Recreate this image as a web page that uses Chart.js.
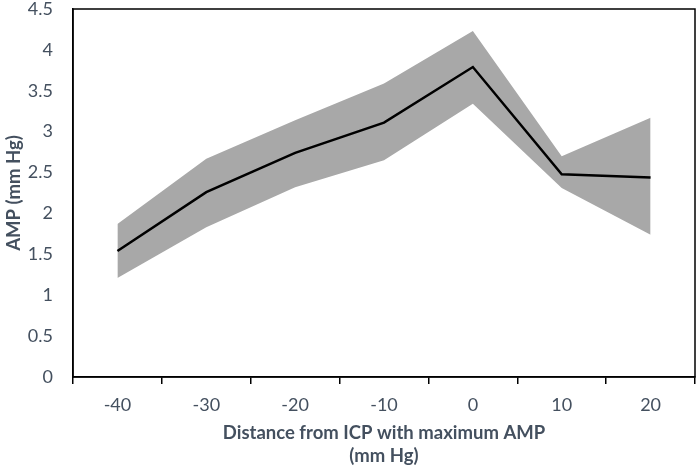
<!DOCTYPE html>
<html>
<head>
<meta charset="utf-8">
<script src="https://cdn.jsdelivr.net/npm/chart.js@4/dist/chart.umd.min.js"></script>
<style>
  html, body { margin: 0; padding: 0; background: #fff; }
  #wrap { width: 700px; height: 471px; }
</style>
</head>
<body>
<div id="wrap"><canvas id="ampChart"></canvas></div>
<script>
const distances = ['-40', '-30', '-20', '-10', '0', '10', '20'];
const meanAmp = [1.54, 2.26, 2.74, 3.11, 3.79, 2.48, 2.44];
const upperAmp = [1.87, 2.67, 3.14, 3.59, 4.23, 2.70, 3.17];
const lowerAmp = [1.21, 1.83, 2.32, 2.65, 3.34, 2.31, 1.74];
const yTicks = [0, 0.5, 1, 1.5, 2, 2.5, 3, 3.5, 4, 4.5];

const textColor = '#44505f';
const fontFamily = 'Lato, "Open Sans", sans-serif';

// box around the plot area (top and right edges)
const frame = {
    id: 'frame',
    afterDraw(chart) {
        const a = chart.chartArea;
        const ctx = chart.ctx;
        ctx.save();
        ctx.strokeStyle = '#000';
        ctx.lineWidth = 1.5;
        ctx.strokeRect(a.left, a.top, a.right - a.left, a.bottom - a.top);
        ctx.restore();
    }
};

const ctx = document.getElementById('ampChart').getContext('2d');
new Chart(ctx, {
    type: 'line',
    data: {
        labels: distances,
        datasets: [
            {
                label: 'Upper',
                data: upperAmp,
                borderWidth: 0,
                pointRadius: 0,
                backgroundColor: '#a8a8a8',
                fill: '+1',
                tension: 0,
                order: 2
            },
            {
                label: 'Lower',
                data: lowerAmp,
                borderWidth: 0,
                pointRadius: 0,
                fill: false,
                tension: 0,
                order: 2
            },
            {
                label: 'AMP',
                data: meanAmp,
                borderColor: '#000',
                borderWidth: 2.5,
                pointRadius: 0,
                fill: false,
                tension: 0,
                order: 0
            }
        ]
    },
    options: {
        responsive: true,
        maintainAspectRatio: false,
        animation: false,
        layout: { padding: { top: 0, right: 5, left: 0, bottom: 3 } },
        plugins: {
            legend: { display: false },
            tooltip: { enabled: false }
        },
        scales: {
            x: {
                type: 'category',
                offset: true,
                afterFit(axis) {
                    axis.height = 91;
                },
                grid: {
                    offset: true,
                    drawOnChartArea: false,
                    drawTicks: true,
                    tickLength: 7,
                    color: '#000',
                    lineWidth: 1.5
                },
                border: { color: '#000', width: 1.5 },
                ticks: {
                    color: textColor,
                    padding: 10,
                    font: { family: fontFamily, size: 18 }
                },
                title: {
                    display: true,
                    text: ['Distance from ICP with maximum AMP', '(mm Hg)'],
                    color: textColor,
                    padding: { top: 7, bottom: 0 },
                    font: { family: fontFamily, size: 18.5, weight: 'bold', lineHeight: 1.25 }
                }
            },
            y: {
                min: 0,
                max: 4.5,
                afterBuildTicks(axis) {
                    axis.ticks = yTicks.map(v => ({ value: v }));
                },
                afterFit(axis) {
                    axis.width = 73;
                    axis.paddingTop = 9;
                },
                grid: { display: false },
                border: { color: '#000', width: 1.5 },
                ticks: {
                    color: textColor,
                    padding: 12,
                    font: { family: fontFamily, size: 18 },
                    callback: v => String(v)
                },
                title: {
                    display: true,
                    text: 'AMP (mm Hg)',
                    color: textColor,
                    padding: { top: 3, bottom: 0 },
                    font: { family: fontFamily, size: 18.5, weight: 'bold' }
                }
            }
        }
    },
    plugins: [frame]
});
</script>
</body>
</html>
